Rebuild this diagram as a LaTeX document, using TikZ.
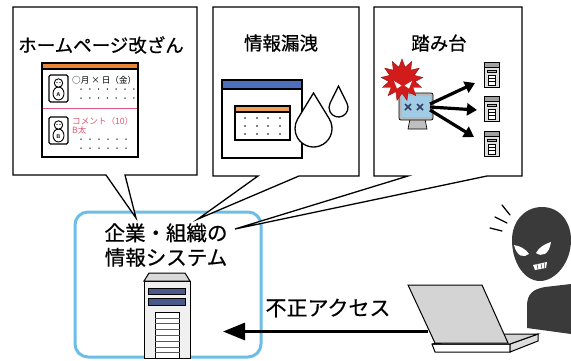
\documentclass[tikz,border=0pt]{standalone}
\usepackage{fontspec}
\newfontfamily\jp{Noto Sans CJK JP}[FakeBold=0.6]
\newfontfamily\jpthin{Noto Sans CJK JP}
\usetikzlibrary{arrows.meta,shapes.geometric,calc}

\definecolor{sysblue}{RGB}{108,190,230}
\definecolor{hporange}{RGB}{232,135,58}
\definecolor{hppink}{RGB}{222,86,120}
\definecolor{winblue}{RGB}{78,110,190}
\definecolor{calorange}{RGB}{236,160,90}
\definecolor{slate}{RGB}{74,88,138}
\definecolor{shadow}{RGB}{58,58,58}
\definecolor{virusred}{RGB}{210,28,28}
\definecolor{screenblue}{RGB}{160,204,230}
\definecolor{lapgray}{RGB}{212,212,212}

\tikzset{
  balloon/.style={draw=black, line width=1.3pt, fill=white, line join=miter},
  title/.style={font=\jp\fontsize{18.5}{20}\selectfont, inner sep=0pt},
  bigtext/.style={font=\jp\fontsize{20.5}{24.5}\selectfont, inner sep=0pt, align=center},
  tiny/.style={font=\jpthin\fontsize{8.6}{10}\selectfont, inner sep=0pt, anchor=west},
  fatarrow/.style={line width=3.2pt, -{Triangle[length=10pt,width=12pt]}},
  mainarrow/.style={line width=3pt, -{Triangle[length=22pt,width=17pt]}},
  avatar/.pic={
    \draw[line width=1.1pt, rounded corners=1.5pt, fill=white] (0,0) rectangle (19,27);
    \draw[line width=0.9pt, fill=white] (9.5,18.5) ellipse (5.5 and 6.5);
    \draw[line width=0.9pt, fill=white] (9.5,8) circle (4.2);
    \fill (8,7.5) circle (0.6) (11,7.5) circle (0.6);
    \node[font=\sffamily\bfseries\fontsize{5.5}{6}\selectfont, inner sep=0pt] at (9.5,19.5) {#1};
  },
  tower/.pic={
    \draw[line width=0.6pt, fill=gray!25] (0,0) rectangle (15,25);
    \draw[line width=0.6pt, fill=gray!75] (0,0) rectangle (15,5);
    \draw[line width=0.5pt, fill=gray!60] (3,8) rectangle (12,10.5);
    \draw[line width=0.5pt, fill=white] (4,13) rectangle (11,23);
    \draw[line width=0.4pt] (4,16) -- (11,16) (4,19) -- (11,19);
  }
}

\begin{document}
\begin{tikzpicture}[x=1pt,y=-1pt]
\useasboundingbox (0,0) rectangle (571,360);
\fill[white] (0,0) rectangle (571,360);

% ---------- corporate information system ----------
\draw[sysblue, line width=3pt, rounded corners=13pt] (75,212) rectangle (261,357);
\node[bigtext] (sys) at (166,245) {企業・組織の\\情報システム};

% server tower
\draw[line width=1pt, fill=gray!12] (144,281) rectangle (190,358);
\draw[line width=1pt, fill=gray!30] (149,273) -- (185,273) -- (190,281) -- (144,281) -- cycle;
\draw[line width=0.9pt, fill=slate] (148.5,288) rectangle (185.5,294.5);
\draw[line width=0.9pt, fill=slate] (148.5,298.5) rectangle (185.5,305);
\draw[line width=1pt, fill=white] (155,312) rectangle (179.5,358);
\foreach \k in {1,...,7}
  \draw[line width=0.6pt, gray!70!black] (155,312+\k*5.8) -- (179.5,312+\k*5.8);
\coordinate (sysin) at (223,331.5);

% ---------- balloon: website defacement ----------
\draw[balloon] (13,7) -- (197,7) -- (197,175) -- (125,175) -- (136,218) -- (106,175) -- (13,175) -- cycle;
\node[title] (t1) at (101,45) {ホームページ改ざん};
\draw[line width=1.2pt, fill=white] (42,63) rectangle (138,157);
\fill[hporange] (42.6,63.6) rectangle (137.4,69);
\draw[line width=1.2pt] (42,69) -- (138,69);
\pic at (49,75) {avatar=A};
\node[tiny] at (72,80) {○月 × 日（金）};
\foreach \x in {0,...,6} {
  \fill (81+\x*8.8,89) circle (0.75);
  \fill (81+\x*8.8,98) circle (0.75);
}
\draw[hppink, line width=1pt] (42.6,108) -- (137.4,108);
\pic at (49,117) {avatar=B};
\node[tiny, text=hppink] at (72,121) {コメント（10）};
\node[tiny, text=hppink] at (72,130.5) {B太};
\foreach \x in {0,...,5} {
  \fill (81+\x*9,139) circle (0.75);
  \fill (81+\x*9,148) circle (0.75);
}

% ---------- balloon: information leak ----------
\draw[balloon] (213,7) -- (359,7) -- (359,176) -- (299,176) -- (198,219) -- (258,176) -- (213,176) -- cycle;
\node[title] (t2) at (281,43) {情報漏洩};
\draw[line width=1.2pt, fill=white] (222,80) rectangle (302,158);
\fill[winblue] (222.6,80.6) rectangle (301.4,89);
\draw[line width=1.2pt] (222,89) -- (302,89);
\draw[line width=1.1pt, fill=white] (235,106) rectangle (290,140);
\fill[calorange] (235.6,106.6) rectangle (289.4,112);
\draw[line width=1.1pt] (235,112) -- (290,112);
\foreach \x in {245,257,268,280}
  \foreach \y in {118,126,134}
    \fill (\x,\y) circle (0.8);
% drops
\draw[line width=1.3pt, fill=white] (313.5,93) -- ($(313.5,128.5)+(-90+59:18.5)$)
  arc[start angle=-90+59, end angle=270-59, radius=18.5] -- cycle;
\draw[line width=1.3pt, fill=white] (338.5,86) -- ($(338.5,107.5)+(-90+63:9.5)$)
  arc[start angle=-90+63, end angle=270-63, radius=9.5] -- cycle;

% ---------- balloon: stepping stone ----------
\draw[balloon] (374,7) -- (522,7) -- (522,176) -- (487,176) -- (235,229) -- (408,176) -- (374,176) -- cycle;
\node[title] (t3) at (439,43) {踏み台};
% infected pc
\draw[line width=0.6pt, fill=gray!50] (410,119) -- (425,119) -- (427,129) -- (408,129) -- cycle;
\node[draw, line width=0.7pt, fill=gray!55, rounded corners=2pt, minimum width=34pt, minimum height=27pt, inner sep=0pt] (virpc) at (416,106.5) {};
\fill[screenblue] (401.5,96) rectangle (430.5,117);
\draw[line width=1.6pt, slate!70!black] (405,104) -- (411,110) (405,110) -- (411,104)
  (417,104) -- (423,110) (417,110) -- (423,104);
\node[star, star points=13, star point ratio=1.6, fill=virusred, draw=virusred!70!black, line width=0.4pt, minimum size=42pt, inner sep=0pt] (virus) at (402,80) {};
\fill[white] (394,81) -- (401.5,85.5) -- (397,88.5) -- cycle;
\fill[white] (412,81) -- (404.5,85.5) -- (409,88.5) -- cycle;
% target servers
\pic at (484,62) {tower};
\pic at (484,96) {tower};
\pic at (484,131) {tower};
\coordinate (s1) at (475,83);
\coordinate (s2) at (477,110);
\coordinate (s3) at (474,137);
\draw[fatarrow] (430,104) -- (s1);
\draw[fatarrow] (430,107) -- (s2);
\draw[fatarrow] (430,110) -- (s3);

% ---------- attacker ----------
\draw[line width=1pt, fill=white] (432,344) -- (510,344) -- (510,352) -- (435,352) -- cycle;
\draw[line width=1pt, fill=lapgray!80] (510,344) -- (538,334) -- (538,341) -- (510,352) -- cycle;
\draw[line width=1pt, fill=lapgray] (432,344) -- (500,334) -- (538,334) -- (510,344) -- cycle;
\node[inner sep=0pt] (lap) at (458,314) {};
\draw[line width=1pt, fill=lapgray] (408,285) -- (482,285) -- (508,343) -- (435,343) -- cycle;
\coordinate (lapin) at (428,331.5);

\draw[mainarrow] (lapin) -- (sysin);
\node[font=\jp\fontsize{21}{24}\selectfont, inner sep=0pt] (acc) at (328,308) {不正アクセス};

% hacker
\fill[shadow] (527,328) -- (527,306) .. controls (527,294) and (533,289) .. (545,287)
  -- (571,284) -- (571,334) -- cycle;
\fill[shadow] (542,207) .. controls (560,207) and (571,222) .. (571,240)
  .. controls (571,263) and (555,281) .. (540,281)
  .. controls (524,281) and (512,262) .. (512,240)
  .. controls (512,221) and (525,207) .. (542,207) -- cycle;
\node[inner sep=0pt] (hacker) at (541,245) {};
\fill[white] (514,245) .. controls (520,246) and (526,249) .. (529,254)
  .. controls (524,258) and (517,257) .. (514,245) -- cycle;
\fill[white] (551,242) .. controls (545,244) and (539,247) .. (536,253)
  .. controls (542,257) and (549,255) .. (551,242) -- cycle;
\fill[white] (533,265) -- (547,262) -- (546,268) -- (535,270) -- cycle;
\draw[shadow, line width=0.5pt] (537,264) -- (538,269.5) (541,263.5) -- (542,269) (544.5,262.8) -- (544.5,268.5);
\draw[line width=1.3pt, line cap=round] (502,205) -- (510,215)
  (495,217) -- (507,223) (490,228) -- (502,231);
\end{tikzpicture}
\end{document}
